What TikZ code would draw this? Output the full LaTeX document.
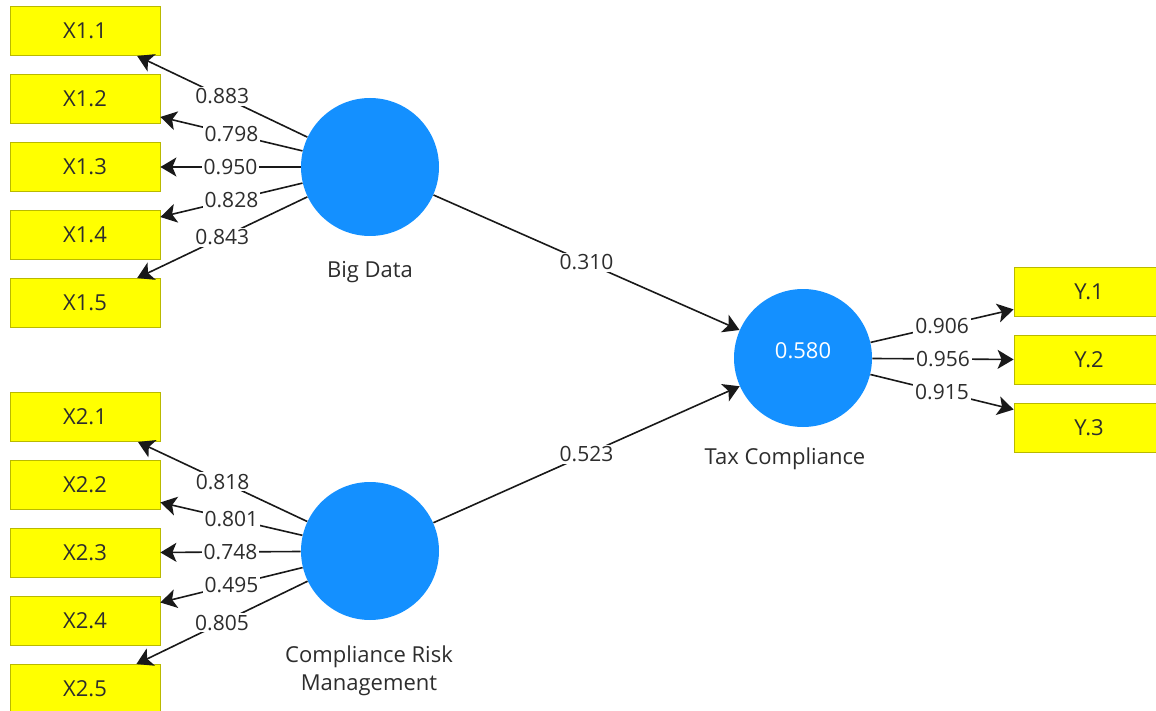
\documentclass[tikz,border=0pt]{standalone}
\usepackage{fontspec}
\setmainfont{Open Sans}
\usetikzlibrary{arrows.meta, positioning}
\definecolor{boxfill}{RGB}{255,255,0}
\definecolor{boxline}{RGB}{185,185,0}
\definecolor{lvblue}{RGB}{20,144,255}
\definecolor{linegray}{RGB}{25,25,25}
\definecolor{textgray}{RGB}{45,45,45}
\tikzstyle{loading} = [draw=linegray, line width=0.8pt, -{Stealth[length=8pt,width=9.5pt,inset=2pt]}]
\tikzstyle{indicator} = [rectangle, draw=boxline, fill=boxfill, minimum width=75pt, minimum height=24.5pt, inner sep=0pt, text=textgray, font=\fontsize{11}{13}\selectfont]
\tikzstyle{construct} = [circle, fill=lvblue, minimum size=69pt, inner sep=0pt]
\tikzset{
	coef/.style = {fill=white, inner sep=1pt, text=textgray,
		font=\fontsize{10.5}{12}\selectfont},
	lvname/.style = {text=textgray, align=center, inner sep=0pt,
		font=\fontsize{11}{14}\selectfont},
}

\begin{document}
\begin{tikzpicture}[x=0.5pt, y=-0.5pt, node distance=34pt]
\path[use as bounding box, clip] (0,0) rectangle (1156,711);
% Placement of latent variables
\node (bd) [construct] at (370,167) {};
\node (crm) [construct] at (370,551) {};
\node (tc) [construct] at (803,358) {};
\node (bdname) [lvname] at (370,272) {Big Data};
\node (crmname) [lvname] at (369,671) {Compliance Risk\\Management};
\node (tcname) [lvname] at (785,459) {Tax Compliance};
\node (tcval) [lvname, text=white] at (803,351) {0.580};

% Placement of indicators
\node (x11) [indicator] at (85,31) {X1.1};
\node (x12) [indicator, below of = x11] {X1.2};
\node (x13) [indicator, below of = x12] {X1.3};
\node (x14) [indicator, below of = x13] {X1.4};
\node (x15) [indicator, below of = x14] {X1.5};
\node (x21) [indicator] at (85,417) {X2.1};
\node (x22) [indicator, below of = x21] {X2.2};
\node (x23) [indicator, below of = x22] {X2.3};
\node (x24) [indicator, below of = x23] {X2.4};
\node (x25) [indicator, below of = x24] {X2.5};
\node (y1) [indicator] at (1089,292) {Y.1};
\node (y2) [indicator, below of = y1] {Y.2};
\node (y3) [indicator, below of = y2] {Y.3};

% Drawing of Lines
\draw [loading] (bd) -- node[coef] {0.883} (x11);
\draw [loading] (bd) -- node[coef] {0.798} (x12);
\draw [loading] (bd) -- node[coef] {0.950} (x13);
\draw [loading] (bd) -- node[coef] {0.828} (x14);
\draw [loading] (bd) -- node[coef] {0.843} (x15);
\draw [loading] (crm) -- node[coef] {0.818} (x21);
\draw [loading] (crm) -- node[coef] {0.801} (x22);
\draw [loading] (crm) -- node[coef] {0.748} (x23);
\draw [loading] (crm) -- node[coef] {0.495} (x24);
\draw [loading] (crm) -- node[coef] {0.805} (x25);
\draw [loading] (tc) -- node[coef] {0.906} (y1);
\draw [loading] (tc) -- node[coef] {0.956} (y2);
\draw [loading] (tc) -- node[coef] {0.915} (y3);
\draw [loading] (bd) -- node[coef] {0.310} (tc);
\draw [loading] (crm) -- node[coef] {0.523} (tc);

\end{tikzpicture}
\end{document}
